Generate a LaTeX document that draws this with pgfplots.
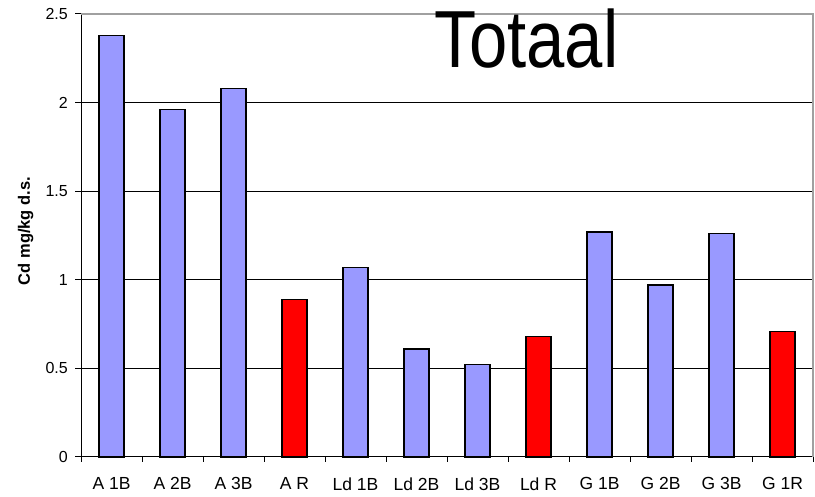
\documentclass[border=0pt]{standalone}
\usepackage{fontspec}
\setmainfont{Liberation Sans}
\usepackage{pgfplots}
\pgfplotsset{compat=1.18}
\definecolor{barblue}{HTML}{9999FF}
\definecolor{barred}{HTML}{FF0000}
\definecolor{framegray}{HTML}{A0A0A0}

\begin{document}
\begin{tikzpicture}
\useasboundingbox (0,0) rectangle (815pt,497pt);
\begin{axis}[
  at={(81pt,40pt)}, anchor=south west,
  scale only axis, width=732pt, height=443pt,
  xmin=-0.5, xmax=11.5, ymin=0, ymax=2.5,
  axis x line*=bottom, axis y line*=left,
  axis line style={black, line width=1pt, -},
  /pgf/number format/assume math mode=true,
  xtick={0,...,11},
  xticklabels={A 1B, A 2B, A 3B, A R, Ld 1B, Ld 2B, Ld 3B, Ld R, G 1B, G 2B, G 3B, G 1R},
  minor xtick={-0.5,0.5,...,11.5},
  ytick={0,0.5,...,2.5},
  yticklabels={0,0.5,1,1.5,2,2.5},
  tick align=outside,
  major x tick style={draw=none},
  minor x tick style={black, line width=1pt},
  y tick style={black, line width=1pt},
  major tick length=6pt, minor tick length=5pt,
  xticklabel style={anchor=north, inner sep=0pt, yshift=-14.5pt, font=\fontsize{17.5}{17.5}\selectfont},
  yticklabel style={anchor=east, inner sep=0pt, xshift=-7pt, font=\fontsize{16}{16}\selectfont},
  ymajorgrids, grid style={black, line width=1pt},
  ylabel={Cd mg/kg d.s.},
  ylabel style={at={(axis description cs:-0.070,0.51)}, anchor=base, rotate=0, font=\fontsize{16.5}{16.5}\selectfont\bfseries},
  ybar, bar width=25pt, bar shift=0pt,
  clip=false,
]
% samples per site: B = blue series, R = red series
\addplot[fill=barblue, draw=black, line width=1.3pt] coordinates {
  (0,2.38) (1,1.96) (2,2.08) (4,1.07) (5,0.61) (6,0.52) (8,1.27) (9,0.97) (10,1.26)};
\addplot[fill=barred, draw=black, line width=1.3pt] coordinates {
  (3,0.89) (7,0.68) (11,0.71)};
% light frame on top and right
\draw[framegray, line width=1.3pt] (rel axis cs:0,1) -- (rel axis cs:1,1) -- (rel axis cs:1,0);
\end{axis}
\node[anchor=base, xscale=0.85, inner sep=0pt, font=\fontsize{81}{81}\selectfont] at (526.5pt,429pt) {Totaal};
\end{tikzpicture}
\end{document}
